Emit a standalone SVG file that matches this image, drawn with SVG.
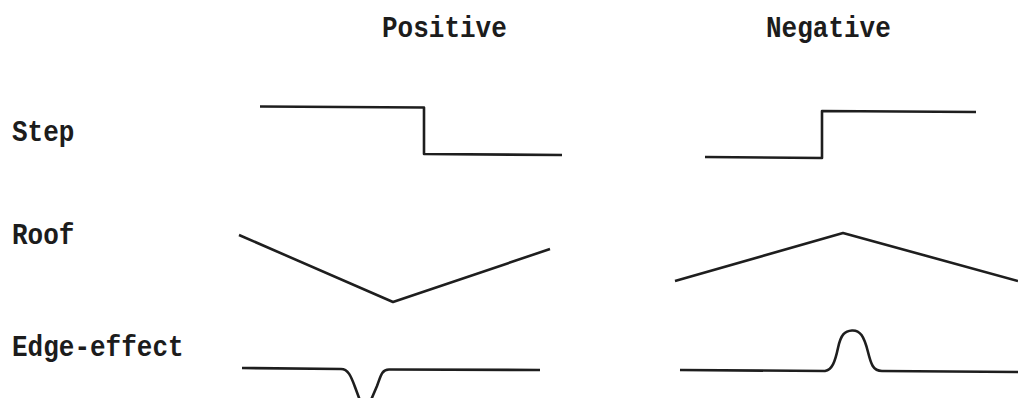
<svg xmlns="http://www.w3.org/2000/svg" width="1018" height="398" viewBox="0 0 1018 398">
  <style>
    .lbl { font-family: "Liberation Mono", "Courier New", monospace; font-size: 26px; font-weight: bold; fill: #1c1c1c; }
    .trace { fill: none; stroke: #1e1e1e; stroke-width: 2.6; stroke-linejoin: round; stroke-linecap: butt; }
  </style>
  <rect width="1018" height="398" fill="#ffffff"/>

  <!-- column headings -->
  <g id="heading-positive"><text class="lbl" transform="translate(382,37) scale(1,1.1)">Positive</text></g>
  <g id="heading-negative"><text class="lbl" transform="translate(766,37) scale(1,1.1)">Negative</text></g>

  <!-- row labels -->
  <g id="label-step"><text class="lbl" transform="translate(12,141) scale(1,1.1)">Step</text></g>
  <g id="label-roof"><text class="lbl" transform="translate(12,244) scale(1,1.1)">Roof</text></g>
  <g id="label-edge"><text class="lbl" transform="translate(12,356) scale(1,1.1)">Edge-effect</text></g>

  <!-- edge profiles -->
  <g id="profiles">
    <g id="step-positive"><path class="trace" d="M260 106.5 L424 107.5 L424 154 L562 155"/></g>
    <g id="step-negative"><path class="trace" d="M705 157 L822 158 L822 111 L976 112"/></g>
    <g id="roof-positive"><path class="trace" d="M239 235 L393 302 L550 249"/></g>
    <g id="roof-negative"><path class="trace" d="M675 281 L843 233 L1018 281"/></g>
    <g id="edge-positive"><path class="trace" d="M242 368 L341 369 C348 369 351 376 355 387 L365 414 L377 386 C381 375 382 369.5 389 369.5 L540 370"/></g>
    <g id="edge-negative"><path class="trace" d="M680 370 L825 371 C832 370 835 362 838 348 C841 334 845 331 852 330.5 C860 330 864 336 868 352 C871 364 873 371 882 371 L1018 372"/></g>
  </g>
</svg>
